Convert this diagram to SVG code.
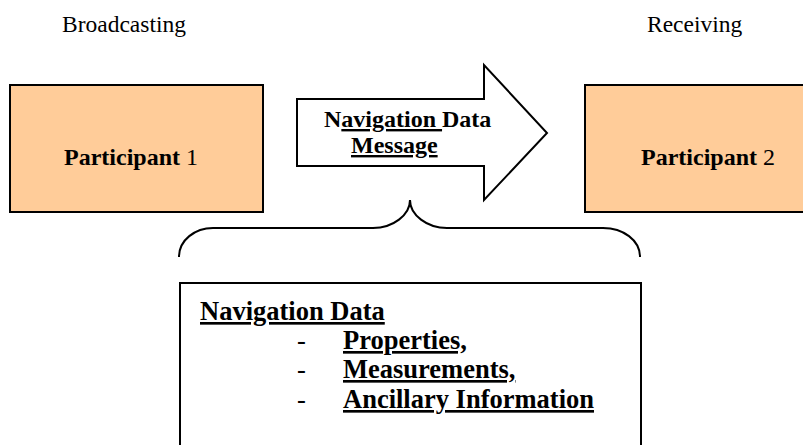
<svg xmlns="http://www.w3.org/2000/svg" width="803" height="445" viewBox="0 0 803 445">
<style>
text{font-family:"Liberation Serif","Times New Roman",serif;fill:#000}
.lbl{font-size:23.5px}
.pl{font-size:24px}
.b{font-weight:bold}
.n{font-weight:normal}
.u{text-decoration:underline;text-decoration-thickness:2.5px;text-underline-offset:3px}
.box{fill:#FFCC99;stroke:#000;stroke-width:2}
.line{fill:none;stroke:#000;stroke-width:2}
.bt{font-size:26.5px;font-weight:bold}
</style>
<rect width="803" height="445" fill="#fff"/>
<text class="lbl" x="62" y="32">Broadcasting</text>
<text class="lbl" x="647" y="32">Receiving</text>
<g id="participant1">
<rect class="box" x="10" y="85" width="253" height="127"/>
<text class="pl" x="64" y="165"><tspan class="b">Participant</tspan><tspan class="n"> 1</tspan></text>
</g>
<g id="participant2">
<rect class="box" x="585" y="85" width="240" height="127"/>
<text class="pl" x="641" y="165"><tspan class="b">Participant</tspan><tspan class="n"> 2</tspan></text>
</g>
<g id="connectors">
<g id="message-arrow">
<polygon class="line" style="fill:#fff" points="297,99 484,99 484,65 547,133 484,200 484,166 297,166"/>
<text x="324" y="127" font-size="24" font-weight="bold">N<tspan class="u">avigation </tspan>Data</text>
<text x="351" y="153" font-size="24" font-weight="bold" class="u">Message</text>
</g>
<path id="brace" class="line" d="M179,257 C179,240 195,228 213,228 L373,228 C393,228 410,215 410,200 C410,215 427,228 447,228 L603,228 C623,228 640,240 640,257"/>
</g>
<g id="navigation-data">
<rect class="line" style="fill:#fff" x="180" y="283" width="461" height="200"/>
<text class="bt u" x="200" y="320">Navigation Data</text>
<text class="bt" x="297" y="349" style="font-weight:normal">-</text>
<text class="bt u" x="343" y="349">Properties,</text>
<text class="bt" x="297" y="378" style="font-weight:normal">-</text>
<text class="bt u" x="343" y="378">Measurements,</text>
<text class="bt" x="297" y="408" style="font-weight:normal">-</text>
<text class="bt u" x="343" y="408">Ancillary Information</text>
</g>
</svg>
